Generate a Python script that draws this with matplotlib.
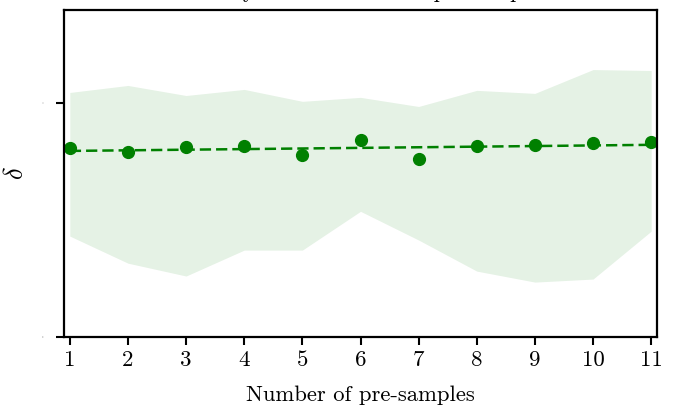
import numpy as np
import matplotlib
matplotlib.use("Agg")
import matplotlib.pyplot as plt

plt.rcParams['font.family'] = 'serif'
plt.rcParams['font.serif'] = ['cmr10', 'DejaVu Serif']
plt.rcParams['mathtext.fontset'] = 'cm'
plt.rcParams['axes.unicode_minus'] = False

# data
n_presamples = [1, 2, 3, 4, 5, 6, 7, 8, 9, 10, 11]
delta_mean = [0.808, 0.791, 0.812, 0.816, 0.778, 0.842, 0.761, 0.816, 0.821, 0.829, 0.833]
delta_upper = [1.047, 1.077, 1.034, 1.060, 1.009, 1.026, 0.987, 1.056, 1.043, 1.145, 1.141]
delta_lower = [0.432, 0.316, 0.261, 0.372, 0.372, 0.538, 0.415, 0.282, 0.235, 0.248, 0.453]
ytick_vals = [0.0, 1.0]

x = np.array(n_presamples)
y = np.array(delta_mean)

fig = plt.figure(figsize=(6.73, 4.09), dpi=100)
ax = fig.add_axes([64 / 673, (409 - 337) / 409, (657 - 64) / 673, (337 - 10) / 409])

ax.fill_between(x, delta_lower, delta_upper, color='green', alpha=0.1, linewidth=0)
ax.plot(x, y, 'o', color='green', markersize=8.5)
coef = np.polyfit(x, y, 1)
ax.plot(x, np.polyval(coef, x), '--', color='green', linewidth=1.8, dashes=(4.5, 2))

ax.set_xlim(0.9, 11.1)
ax.set_ylim(0.0, 1.4)
ax.set_xticks(n_presamples)
ax.set_yticks(ytick_vals)
ax.set_yticklabels([str(v) for v in ytick_vals], fontsize=1.5, color='#999999')

for s in ax.spines.values():
    s.set_linewidth(1.6)
ax.tick_params(axis='x', labelsize=16.5, length=6, width=1.5, direction='out', pad=4)
ax.tick_params(axis='y', length=6, width=1.5, direction='out', pad=8)

ax.set_xlabel('Number of pre-samples', fontsize=16.3, labelpad=11)
ax.set_ylabel(r'$\delta$', fontsize=19, labelpad=10)

# title sits mostly above the canvas, as in the reference
fig.text(0.52, 1.0 + 2.5 / 409, 'Sensitivity to the number of pre-samples',
         ha='center', va='baseline', fontsize=16)

fig.savefig('out.png', dpi=100)
